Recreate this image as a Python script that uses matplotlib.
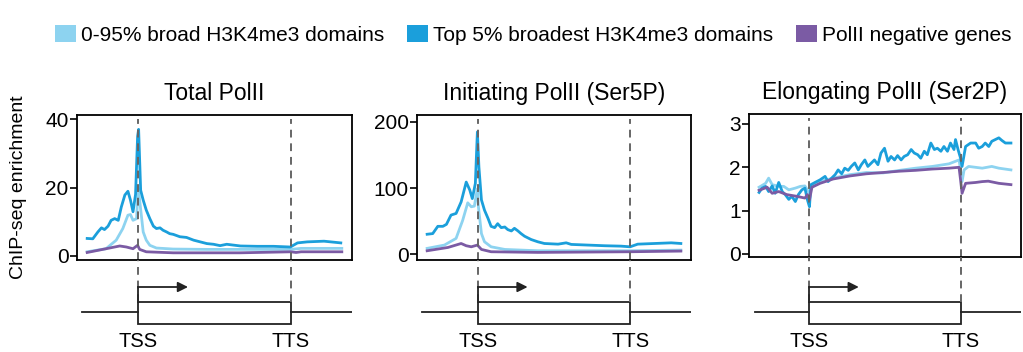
import matplotlib
matplotlib.use("Agg")
import matplotlib.pyplot as plt
from matplotlib.patches import Rectangle, Patch

plt.rcParams['font.family'] = ['Liberation Sans', 'DejaVu Sans']

# scaled gene coordinates: -1..0 upstream, 0 = TSS, 3 = TTS, 3..4 downstream
TSS, TTS = 0.0, 3.0

titles = ["Total PolII", "Initiating PolII (Ser5P)", "Elongating PolII (Ser2P)"]
series_names = ["0-95% broad H3K4me3 domains", "Top 5% broadest H3K4me3 domains", "PolII negative genes"]
colors = ["#8dd3f0", "#1b9fdb", "#7b5ba4"]

# ---- Total PolII ----
tot_top_x = [-1.0, -0.89, -0.79, -0.72, -0.66, -0.59, -0.53, -0.46, -0.39, -0.33, -0.26, -0.20, -0.15,
             -0.10, -0.05, -0.01, 0.01, 0.05, 0.10, 0.16, 0.23, 0.30, 0.36, 0.43, 0.49, 0.56, 0.62,
             0.69, 0.82, 0.95, 1.09, 1.22, 1.35, 1.48, 1.61, 1.74, 2.01, 2.34, 2.66, 2.99, 3.13,
             3.32, 3.65, 3.98]
tot_top_y = [5.1, 5.0, 7.0, 8.2, 7.7, 8.7, 10.4, 10.9, 10.4, 14.3, 17.8, 18.9, 16.3,
             12.9, 18.0, 35.0, 37.0, 19.2, 16.3, 13.4, 10.9, 8.7, 8.0, 8.2, 7.5, 7.0, 6.5,
             6.3, 5.6, 5.4, 4.6, 4.1, 3.6, 3.4, 3.0, 3.4, 2.9, 2.8, 2.8, 2.6, 3.8,
             4.1, 4.3, 3.8]
tot_broad_x = [-1.0, -0.63, -0.43, -0.30, -0.20, -0.15, -0.10, -0.03, 0.0, 0.03, 0.10, 0.16, 0.23,
               0.36, 0.69, 1.35, 3.0, 3.2, 4.0]
tot_broad_y = [1.2, 2.1, 4.6, 8.0, 11.9, 12.1, 10.4, 10.9, 20.0, 16.3, 7.0, 4.6, 3.1,
               2.3, 2.0, 1.9, 1.9, 2.2, 2.2]
tot_neg_x = [-1.0, -0.36, -0.23, -0.10, -0.01, 0.03, 0.16, 0.69, 2.0, 3.0, 3.1, 3.2, 4.0]
tot_neg_y = [1.0, 2.9, 2.6, 2.1, 3.1, 1.9, 1.2, 0.9, 0.9, 1.2, 1.0, 1.2, 1.2]

# ---- Initiating PolII (Ser5P) ----
ini_top_x = [-1.0, -0.89, -0.79, -0.69, -0.62, -0.53, -0.43, -0.33, -0.23, -0.16, -0.11, -0.05,
             -0.01, 0.02, 0.07, 0.13, 0.20, 0.26, 0.33, 0.39, 0.46, 0.53, 0.59, 0.66, 0.72, 0.79,
             0.85, 0.92, 1.05, 1.18, 1.31, 1.58, 1.74, 1.84, 2.17, 2.50, 2.82, 3.0, 3.15, 3.48,
             3.81, 4.0]
ini_top_y = [30, 31, 42, 42, 45, 59, 61.5, 79, 109, 97, 84, 107,
             185, 132, 82, 66.5, 54, 42, 40, 46, 40, 41, 37, 35, 39, 35,
             31, 27, 22, 18.6, 16, 15, 17, 14.6, 13.6, 12.6, 12, 11, 15, 16,
             17, 16]
ini_broad_x = [-1.0, -0.66, -0.43, -0.30, -0.20, -0.13, -0.07, -0.01, 0.01, 0.07, 0.13, 0.26,
               0.53, 1.18, 3.0, 4.0]
ini_broad_y = [8.6, 13.6, 23.7, 51, 77.6, 71.6, 72.6, 99, 71.6, 31, 18.6, 11,
               7, 5, 5, 6]
ini_neg_x = [-1.0, -0.59, -0.33, -0.23, -0.13, -0.01, 0.07, 0.26, 1.18, 3.0, 4.0]
ini_neg_y = [5, 10, 16, 12.6, 11, 13.6, 7, 3.5, 2.5, 3.5, 4.5]

# ---- Elongating PolII (Ser2P) ----
elo_top_x = [-1.0, -0.94, -0.87, -0.81, -0.74, -0.68, -0.61, -0.54, -0.48, -0.41, -0.35, -0.28,
             -0.22, -0.15, -0.09, -0.04, 0.0, 0.03, 0.11, 0.21, 0.31, 0.37, 0.44, 0.51, 0.57,
             0.64, 0.70, 0.77, 0.83, 0.90, 0.97, 1.03, 1.10, 1.16, 1.23, 1.29, 1.36, 1.42, 1.49,
             1.56, 1.62, 1.69, 1.75, 1.82, 1.88, 1.95, 2.02, 2.08, 2.15, 2.21, 2.28, 2.34, 2.41,
             2.48, 2.54, 2.61, 2.67, 2.74, 2.80, 2.87, 2.90, 2.95, 3.0, 3.03, 3.10, 3.20, 3.30,
             3.36, 3.43, 3.49, 3.56, 3.62, 3.69, 3.76, 3.82, 3.89, 4.0]
elo_top_y = [1.42, 1.52, 1.56, 1.44, 1.57, 1.40, 1.65, 1.44, 1.37, 1.26, 1.33, 1.21,
             1.37, 1.48, 1.52, 1.25, 1.09, 1.60, 1.65, 1.71, 1.79, 1.67, 1.75, 1.83, 1.94,
             1.85, 1.98, 1.93, 2.02, 2.10, 1.94, 2.06, 2.17, 2.02, 2.10, 2.17, 2.06, 2.33, 2.44,
             2.14, 2.25, 2.17, 2.27, 2.17, 2.25, 2.29, 2.41, 2.33, 2.29, 2.21, 2.37, 2.29, 2.56,
             2.41, 2.44, 2.37, 2.48, 2.37, 2.56, 2.41, 2.64, 2.41, 2.21, 2.02, 2.48, 2.56, 2.56,
             2.44, 2.48, 2.56, 2.48, 2.60, 2.64, 2.68, 2.62, 2.56, 2.56]
elo_broad_x = [-1.0, -0.87, -0.81, -0.74, -0.61, -0.51, -0.41, -0.28, -0.18, -0.09, 0.0, 0.05,
               0.21, 0.47, 0.80, 1.13, 1.46, 1.79, 2.11, 2.44, 2.77, 2.97, 3.0, 3.03, 3.07,
               3.16, 3.43, 3.62, 3.76, 4.0]
elo_broad_y = [1.54, 1.63, 1.75, 1.60, 1.56, 1.56, 1.48, 1.52, 1.56, 1.57, 1.40, 1.56,
               1.67, 1.75, 1.83, 1.88, 1.87, 1.93, 1.98, 2.02, 2.08, 2.17, 1.94, 1.67, 1.94,
               2.02, 1.98, 2.02, 1.98, 1.94]
elo_neg_x = [-1.0, -0.84, -0.74, -0.61, -0.45, -0.25, -0.09, -0.04, 0.0, 0.05, 0.21, 0.47,
             0.80, 1.13, 1.46, 1.79, 2.11, 2.44, 2.77, 2.97, 3.0, 3.03, 3.10, 3.30, 3.43,
             3.55, 3.76, 4.0]
elo_neg_y = [1.47, 1.54, 1.40, 1.44, 1.37, 1.33, 1.29, 1.37, 1.25, 1.54, 1.63, 1.73,
             1.80, 1.85, 1.88, 1.91, 1.93, 1.96, 1.98, 2.00, 1.71, 1.40, 1.63, 1.65, 1.67,
             1.68, 1.63, 1.60]

panels = [
    [(tot_broad_x, tot_broad_y), (tot_top_x, tot_top_y), (tot_neg_x, tot_neg_y)],
    [(ini_broad_x, ini_broad_y), (ini_top_x, ini_top_y), (ini_neg_x, ini_neg_y)],
    [(elo_broad_x, elo_broad_y), (elo_top_x, elo_top_y), (elo_neg_x, elo_neg_y)],
]
yticks = [[0, 20, 40], [0, 100, 200], [0, 1, 2, 3]]
ylims = [(-1.2, 41.2), (-9, 210.6), (-0.07, 3.23)]

W, H = 1023, 352
fig = plt.figure(figsize=(W / 100, H / 100), dpi=100)

# axes boxes in pixels: left, top, right, bottom
boxes = [(77, 115, 352, 260), (417, 115, 691, 260), (749, 114, 1021, 257)]
gene_left = [82, 422, 755]
dash = dict(color='#666666', ls=(0, (4, 3)), lw=1.4)
ink = '#222222'

for i, (l, t, r, b) in enumerate(boxes):
    ax = fig.add_axes([l / W, (H - b) / H, (r - l) / W, (b - t) / H])
    for (xs, ys), c in zip(panels[i], colors):
        ax.plot(xs, ys, color=c, lw=2.0, solid_joinstyle='round')
    ax.set_xlim(-1.2, 4.2)
    ax.set_ylim(*ylims[i])
    ax.set_yticks(yticks[i])
    ax.set_xticks([])
    ax.tick_params(axis='y', labelsize=15, length=5, width=1.2, direction='out', pad=1)
    for s in ax.spines.values():
        s.set_linewidth(1.3)
    ax.axvline(TSS, ymax=0.97, **dash)
    ax.axvline(TTS, ymax=0.97, **dash)
    ax.set_title(titles[i], fontsize=16.5, pad=11)
    if i == 0:
        ax.set_ylabel("ChIP-seq enrichment", fontsize=14)
        ax.yaxis.set_label_coords(-0.182, 0.5)

    # gene diagram under each panel (y in pixels from figure bottom)
    g = fig.add_axes([l / W, 0, (r - l) / W, (H - b) / H])
    g.set_xlim(-1.2, 4.2)
    g.set_ylim(0, H - b)
    g.axis('off')
    top = H - b
    xl = -1.2 + (gene_left[i] - l) / (r - l) * 5.4
    g.plot([xl, TSS], [40, 40], color=ink, lw=1.3)
    g.plot([TTS, 4.2], [40, 40], color=ink, lw=1.3)
    g.add_patch(Rectangle((TSS, 28), TTS - TSS, 22, fill=False, ec=ink, lw=1.3))
    g.plot([TSS, TSS], [50, top], **dash)
    g.plot([TTS, TTS], [50, top], **dash)
    g.plot([TSS, TSS], [50, 65], color=ink, lw=1.3)
    g.annotate("", xy=(0.98, 65), xytext=(TSS, 65),
               arrowprops=dict(arrowstyle='-|>', color=ink, lw=1.3,
                               mutation_scale=15, shrinkA=0, shrinkB=0))
    g.text(TSS, 1, "TSS", ha='center', va='bottom', fontsize=14.5)
    g.text(TTS, 1, "TTS", ha='center', va='bottom', fontsize=14.5)

handles = [Patch(facecolor=c, edgecolor='none') for c in colors]
fig.legend(handles, series_names, loc='center left', bbox_to_anchor=(55 / W, 1 - 35 / H),
           ncol=3, frameon=False, fontsize=15, handlelength=1.0, handleheight=0.9,
           handletextpad=0.25, columnspacing=1.1, borderpad=0, borderaxespad=0)

fig.savefig("out.png", dpi=100)
